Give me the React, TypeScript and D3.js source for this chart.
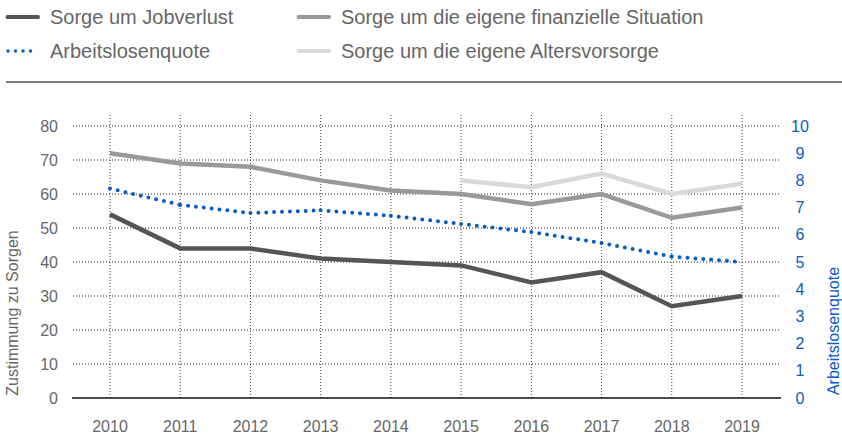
import React from "react";
import * as d3 from "d3";

const years = [2010, 2011, 2012, 2013, 2014, 2015, 2016, 2017, 2018, 2019];
const jobverlust = [54, 44, 44, 41, 40, 39, 34, 37, 27, 30];
const finanziell = [72, 69, 68, 64, 61, 60, 57, 60, 53, 56];
const altersYears = [2015, 2016, 2017, 2018, 2019];
const alters = [64, 62, 66, 60, 63];
const quote = [7.7, 7.1, 6.8, 6.9, 6.7, 6.4, 6.1, 5.7, 5.2, 5.0];
const leftTicks = [0, 10, 20, 30, 40, 50, 60, 70, 80];
const rightTicks = [0, 1, 2, 3, 4, 5, 6, 7, 8, 9, 10];

const W = 842;
const H = 440;
const FONT = "'Liberation Sans', Arial, sans-serif";
const BLUE = "#0a5cc4";
const TXT = "#666";

type Pt = [number, number];

export default function App() {
  const x = d3.scaleLinear().domain([2010, 2019]).range([110, 742]);
  const y = d3.scaleLinear().domain([0, 80]).range([398, 126]);
  const y2 = d3.scaleLinear().domain([0, 10]).range([398, 126]);

  const line = d3
    .line<Pt>()
    .x((d) => x(d[0]))
    .y((d) => y(d[1]));

  const legend = [
    { label: "Sorge um Jobverlust", color: "#555", dots: false, lx: 6, ly: 17 },
    { label: "Arbeitslosenquote", color: BLUE, dots: true, lx: 6, ly: 51 },
    { label: "Sorge um die eigene finanzielle Situation", color: "#999", dots: false, lx: 297, ly: 17 },
    { label: "Sorge um die eigene Altersvorsorge", color: "#d9d9d9", dots: false, lx: 297, ly: 51 },
  ];

  return (
    <svg
      width={W}
      height={H}
      style={{ position: "absolute", left: 0, top: 0, background: "#fff" }}
      fontFamily={FONT}
    >
      {legend.map((l) => (
        <g key={l.label}>
          {l.dots ? (
            <line
              x1={l.lx + 2}
              x2={l.lx + 32}
              y1={l.ly}
              y2={l.ly}
              stroke={l.color}
              strokeWidth={3.5}
              strokeDasharray="0 7.5"
              strokeLinecap="round"
            />
          ) : (
            <line x1={l.lx + 1.5} x2={l.lx + 32} y1={l.ly} y2={l.ly} stroke={l.color} strokeWidth={4} strokeLinecap="round" />
          )}
          <text x={l.lx + 44} y={l.ly + 7} fontSize={20} fill={TXT}>
            {l.label}
          </text>
        </g>
      ))}
      <line x1={6} x2={842} y1={82} y2={82} stroke="#7a7a7a" strokeWidth={2} />

      {/* grid */}
      {leftTicks.slice(1).map((t) => (
        <line key={"h" + t} x1={73} x2={780} y1={y(t)} y2={y(t)} stroke="#222" strokeWidth={1} strokeDasharray="1 2" />
      ))}
      {years.map((yr) => (
        <line key={"v" + yr} x1={x(yr)} x2={x(yr)} y1={115} y2={398} stroke="#444" strokeWidth={1} strokeDasharray="1 2" />
      ))}
      <line x1={72} x2={781} y1={398} y2={398} stroke="#111" strokeWidth={1.5} />

      {/* left axis */}
      {leftTicks.map((t) => (
        <text key={"l" + t} x={58} y={y(t) + 5.5} fontSize={16} fill={TXT} textAnchor="end">
          {t}
        </text>
      ))}
      <text transform={`translate(18,${313}) rotate(-90)`} fontSize={16} fill={TXT} textAnchor="middle">
        Zustimmung zu Sorgen
      </text>

      {/* right axis */}
      {rightTicks.map((t) => (
        <text key={"r" + t} x={800} y={y2(t) + 5.5} fontSize={16} fill={BLUE} textAnchor="middle">
          {t}
        </text>
      ))}
      <text transform={`translate(839,${331}) rotate(-90)`} fontSize={16} fill={BLUE} textAnchor="middle">
        Arbeitslosenquote
      </text>

      {/* x axis */}
      {years.map((yr) => (
        <text key={"x" + yr} x={x(yr)} y={432} fontSize={16} fill={TXT} textAnchor="middle">
          {yr}
        </text>
      ))}

      {/* series */}
      <path d={line(altersYears.map((yr, i) => [yr, alters[i]] as Pt)) || ""} fill="none" stroke="#d9d9d9" strokeWidth={4.5} />
      <path d={line(years.map((yr, i) => [yr, finanziell[i]] as Pt)) || ""} fill="none" stroke="#999" strokeWidth={4.5} />
      <path d={line(years.map((yr, i) => [yr, jobverlust[i]] as Pt)) || ""} fill="none" stroke="#555" strokeWidth={4.5} />
      {years.slice(1).map((yr, i) => (
        <line
          key={"q" + yr}
          x1={x(years[i])}
          y1={y2(quote[i])}
          x2={x(yr)}
          y2={y2(quote[i + 1])}
          stroke={BLUE}
          strokeWidth={4}
          strokeDasharray="0 7.9"
          strokeLinecap="round"
        />
      ))}
    </svg>
  );
}
